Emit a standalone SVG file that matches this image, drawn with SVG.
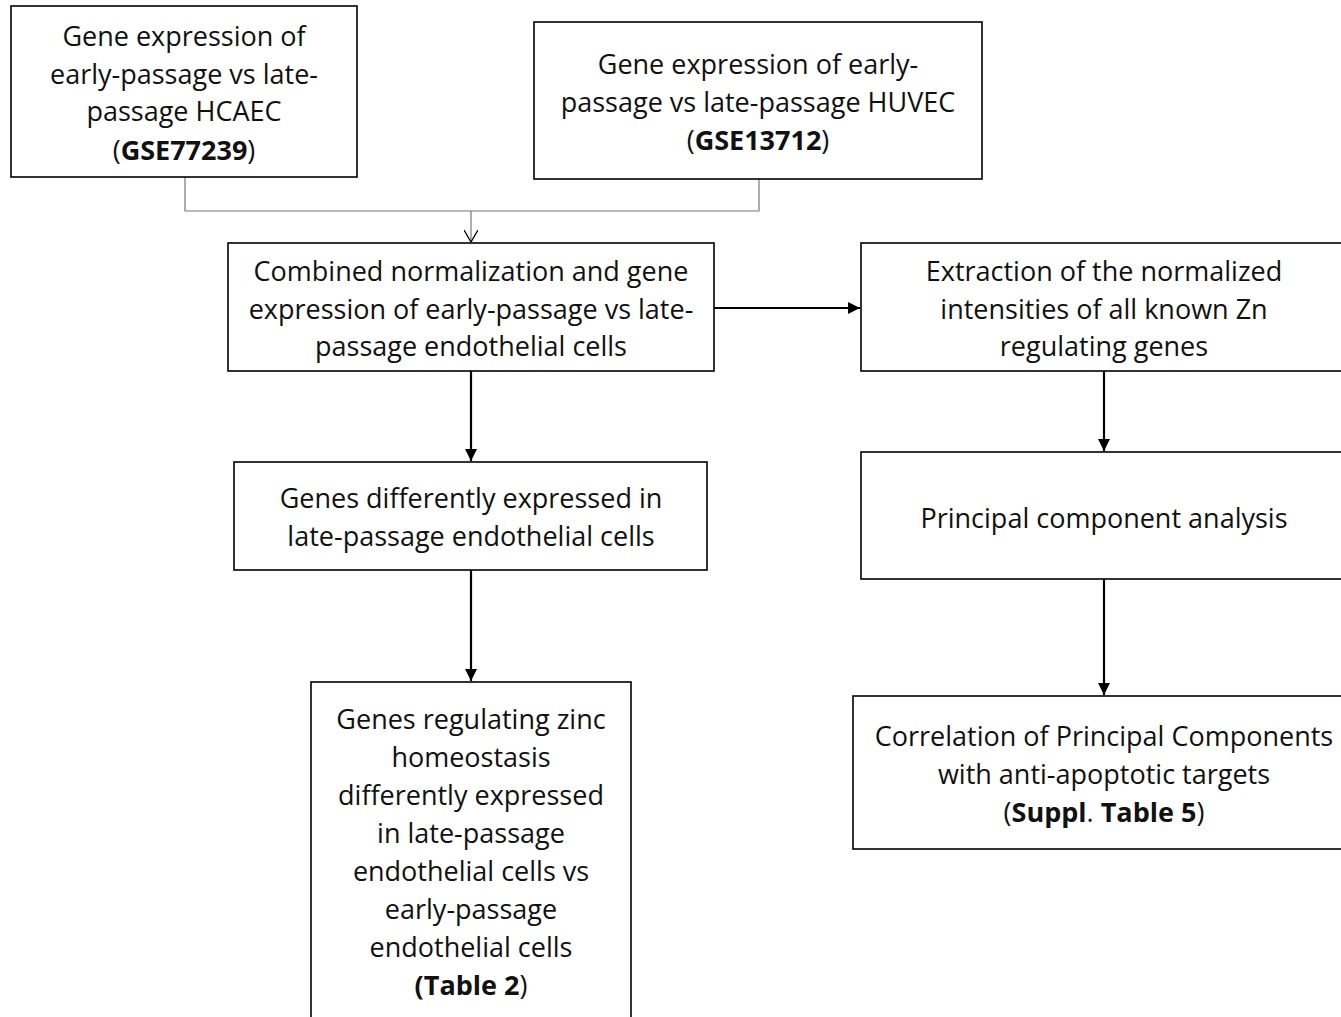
<svg xmlns="http://www.w3.org/2000/svg" width="1341" height="1017" viewBox="0 0 1341 1017">
<defs>
<style>
.box{fill:#fff;stroke:#000;stroke-width:1.6}
.t{font-family:"Open Sans","Liberation Sans",sans-serif;font-size:27px;fill:#111;text-anchor:middle}
.b{font-weight:bold}
.c{fill:none;stroke:#000;stroke-width:2.2}
.g{fill:none;stroke:#777;stroke-width:1.2}
</style>
<marker id="ah" viewBox="0 0 10 10" refX="10" refY="5" markerWidth="5.5" markerHeight="5.5" orient="auto" markerUnits="strokeWidth">
<path d="M0,0 L10,5 L0,10 Z" fill="#000"/>
</marker>
<marker id="oh" viewBox="0 0 12 14" refX="12" refY="7" markerWidth="12" markerHeight="14" orient="auto" markerUnits="userSpaceOnUse">
<path d="M0,0 L12,7 L0,14" fill="none" stroke="#000" stroke-width="1.3"/>
</marker>
</defs>
<rect width="1341" height="1017" fill="#fff"/>
<g id="connectors">
<path class="g" d="M185,177 V211 H759 V179"/>
<path class="g" d="M471,211 V242" marker-end="url(#oh)"/>
<path class="c" d="M714,308 H860" marker-end="url(#ah)"/>
<path class="c" d="M471,371 V461" marker-end="url(#ah)"/>
<path class="c" d="M471,570 V681" marker-end="url(#ah)"/>
<path class="c" d="M1104,371 V451" marker-end="url(#ah)"/>
<path class="c" d="M1104,579 V695" marker-end="url(#ah)"/>
</g>
<g id="n1">
<rect class="box" x="11" y="6" width="346" height="171"/>
<text class="t" x="184" y="46">Gene expression of</text>
<text class="t" x="184" y="84">early-passage vs late-</text>
<text class="t" x="184" y="121">passage HCAEC</text>
<text class="t" x="184" y="160">(<tspan class="b">GSE77239</tspan>)</text>
</g>
<g id="n2">
<rect class="box" x="534" y="22" width="448" height="157"/>
<text class="t" x="758" y="74">Gene expression of early-</text>
<text class="t" x="758" y="112">passage vs late-passage HUVEC</text>
<text class="t" x="758" y="150">(<tspan class="b">GSE13712</tspan>)</text>
</g>
<g id="n3">
<rect class="box" x="228" y="243" width="486" height="128"/>
<text class="t" x="471" y="281">Combined normalization and gene</text>
<text class="t" x="471" y="319">expression of early-passage vs late-</text>
<text class="t" x="471" y="356">passage endothelial cells</text>
</g>
<g id="n4">
<rect class="box" x="861" y="243" width="482" height="128"/>
<text class="t" x="1104" y="281">Extraction of the normalized</text>
<text class="t" x="1104" y="319">intensities of all known Zn</text>
<text class="t" x="1104" y="356">regulating genes</text>
</g>
<g id="n5">
<rect class="box" x="234" y="462" width="473" height="108"/>
<text class="t" x="471" y="508">Genes differently expressed in</text>
<text class="t" x="471" y="546">late-passage endothelial cells</text>
</g>
<g id="n6">
<rect class="box" x="861" y="452" width="482" height="127"/>
<text class="t" x="1104" y="528">Principal component analysis</text>
</g>
<g id="n7">
<rect class="box" x="311" y="682" width="320" height="340"/>
<text class="t" x="471" y="729">Genes regulating zinc</text>
<text class="t" x="471" y="767">homeostasis</text>
<text class="t" x="471" y="805">differently expressed</text>
<text class="t" x="471" y="843">in late-passage</text>
<text class="t" x="471" y="881">endothelial cells vs</text>
<text class="t" x="471" y="919">early-passage</text>
<text class="t" x="471" y="957">endothelial cells</text>
<text class="t" x="471" y="995"><tspan class="b">(Table 2</tspan>)</text>
</g>
<g id="n8">
<rect class="box" x="853" y="696" width="490" height="153"/>
<text class="t" x="1104" y="746">Correlation of Principal Components</text>
<text class="t" x="1104" y="784">with anti-apoptotic targets</text>
<text class="t" x="1104" y="822">(<tspan class="b">Suppl</tspan>. <tspan class="b">Table 5</tspan>)</text>
</g>
</svg>
